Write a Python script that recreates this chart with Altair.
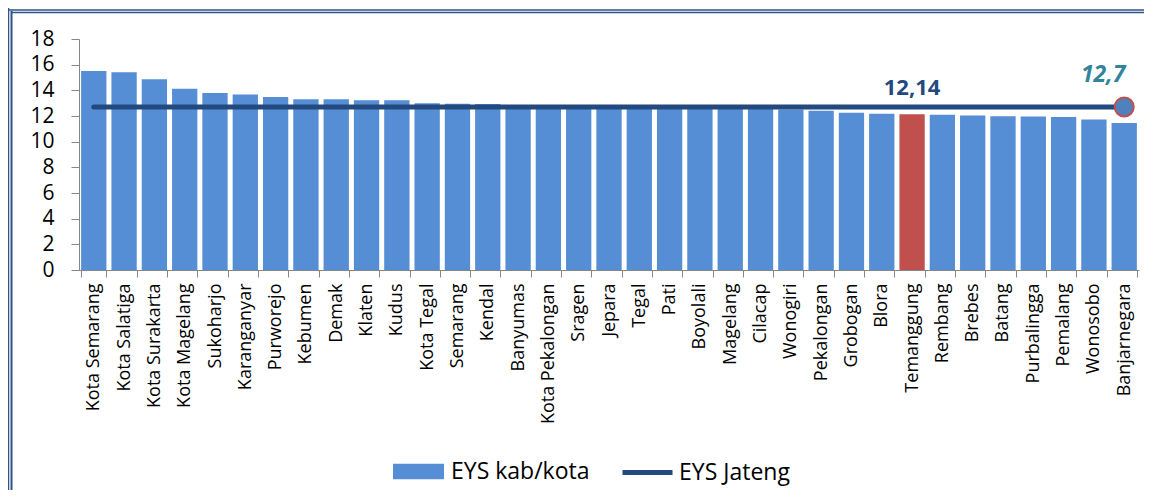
import altair as alt
import pandas as pd

names = ["Kota Semarang", "Kota Salatiga", "Kota Surakarta", "Kota Magelang", "Sukoharjo",
         "Karanganyar", "Purworejo", "Kebumen", "Demak", "Klaten", "Kudus", "Kota Tegal",
         "Semarang", "Kendal", "Banyumas", "Kota Pekalongan", "Sragen", "Jepara", "Tegal",
         "Pati", "Boyolali", "Magelang", "Cilacap", "Wonogiri", "Pekalongan", "Grobogan",
         "Blora", "Temanggung", "Rembang", "Brebes", "Batang", "Purbalingga", "Pemalang",
         "Wonosobo", "Banjarnegara"]
eys_kab = [15.51, 15.40, 14.86, 14.13, 13.80, 13.67, 13.48, 13.30, 13.30, 13.22, 13.22, 13.00,
           12.95, 12.94, 12.85, 12.80, 12.78, 12.75, 12.72, 12.70, 12.65, 12.60, 12.55, 12.50,
           12.40, 12.26, 12.18, 12.14, 12.10, 12.03, 11.98, 11.97, 11.93, 11.72, 11.46]
eys_jateng = 12.7
highlight = "Temanggung"
label_highlight = "12,14"
label_jateng = "12,7"
y_ticks = [0, 2, 4, 6, 8, 10, 12, 14, 16, 18]

BLUE = "#558ED5"
RED = "#C0504D"
NAVY = "#23497E"
TEAL = "#31849B"
GRAY = "#868686"

df = pd.DataFrame({
    "name": names,
    "value": eys_kab,
    "kind": ["Temanggung" if n == highlight else "EYS kab/kota" for n in names],
    "jateng": [eys_jateng] * len(names),
    "series": ["EYS Jateng"] * len(names),
})

xscale = alt.Scale(paddingInner=0.165, paddingOuter=0.07)
xaxis = alt.Axis(title=None, tickBand="extent", labelAngle=270, labelAlign="right",
                 labelBaseline="middle", labelFontSize=18, labelPadding=6, tickSize=7,
                 labelColor="black", labelOverlap=False, labelLimit=300,
                 domainColor=GRAY, tickColor=GRAY, grid=False)
yscale = alt.Scale(domain=[0, 18], nice=False)
yaxis = alt.Axis(title=None, values=y_ticks, tickSize=8, labelPadding=17,
                 labelFontSize=21, labelColor="black", domainColor=GRAY,
                 tickColor=GRAY, grid=False, labelOverlap=False, labelFlush=False)
xenc = alt.X("name:N", sort=names, scale=xscale, axis=xaxis)


def yenc(field):
    return alt.Y(f"{field}:Q", scale=yscale, axis=yaxis)


base = alt.Chart(df)

bars = base.mark_bar().encode(
    x=xenc,
    y=yenc("value"),
    fill=alt.Fill("kind:N",
                  scale=alt.Scale(domain=["EYS kab/kota", "Temanggung"], range=[BLUE, RED]),
                  legend=alt.Legend(title=None, values=["EYS kab/kota"], orient="none",
                                    legendX=313, legendY=406,
                                    symbolType="M-1,-0.3H1V0.3H-1Z", symbolSize=2601,
                                    labelFontSize=23, labelColor="black", labelOffset=6)),
)

line = base.mark_line(strokeWidth=5, strokeCap="round").encode(
    x=xenc,
    y=yenc("jateng"),
    stroke=alt.Stroke("series:N", scale=alt.Scale(domain=["EYS Jateng"], range=[NAVY]),
                      legend=alt.Legend(title=None, orient="none", legendX=541, legendY=406,
                                        symbolType="stroke", symbolStrokeWidth=5,
                                        symbolSize=2500, labelFontSize=23,
                                        labelColor="black", labelOffset=4)),
)

dot = base.transform_filter(alt.datum.name == names[-1]).mark_point(
    filled=True, size=361, fill="#4F81BD", stroke=RED, strokeWidth=2, opacity=1
).encode(x=xenc, y=yenc("jateng"))

txt_hl = base.transform_filter(alt.datum.name == highlight).transform_calculate(
    lab=f"'{label_highlight}'"
).mark_text(dy=-26, fontSize=22, fontWeight="bold", color=NAVY).encode(
    x=xenc, y=yenc("value"), text="lab:N")

txt_j = base.transform_filter(alt.datum.name == names[-1]).transform_calculate(
    lab=f"'{label_jateng}'"
).mark_text(dx=-21, dy=-32, fontSize=23, fontWeight="bold", fontStyle="italic",
            color=TEAL).encode(
    x=xenc, y=yenc("jateng"), text="lab:N")

frame_df = pd.DataFrame({"k": [0]})
fb = alt.Chart(frame_df)
frame = alt.layer(
    fb.mark_rule(color="#2F5386", strokeWidth=1.5).encode(
        x=alt.value(-70.5), y=alt.value(-31), y2=alt.value(470)),
    fb.mark_rule(color="#2F5386", strokeWidth=2).encode(
        x=alt.value(-67.5), y=alt.value(-28), y2=alt.value(470)),
    fb.mark_rule(color="#2F5386", strokeWidth=1.5).encode(
        x=alt.value(-71), x2=alt.value(1070), y=alt.value(-29)),
    fb.mark_rule(color="#2F5386", strokeWidth=1.5).encode(
        x=alt.value(-68), x2=alt.value(1070), y=alt.value(-26.5)),
)

chart = alt.layer(bars, line, dot, txt_hl, txt_j, frame).resolve_legend(
    fill="independent", stroke="independent"
).properties(
    width=1060, height=231, autosize="none",
    padding={"left": 71, "top": 31, "right": 5, "bottom": 220},
).configure(font="Open Sans").configure_view(stroke=None)

chart.save("out.html", embed_options={"renderer": "svg", "actions": False})
